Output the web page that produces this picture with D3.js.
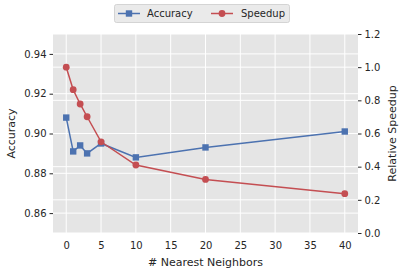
<!DOCTYPE html>
<html><head><meta charset="utf-8">
<script src="https://cdn.jsdelivr.net/npm/d3@7"></script>
<style>
html,body{margin:0;padding:0;background:#fff;}
text{font-family:"DejaVu Sans",sans-serif;fill:#262626;}
</style></head>
<body><svg id="c" width="405" height="273"></svg>
<script>
const neighbors = [0, 1, 2, 3, 5, 10, 20, 40];
const accuracy = [0.908, 0.891, 0.894, 0.890, 0.895, 0.888, 0.893, 0.901];
const speedup = [1.0, 0.864, 0.778, 0.701, 0.55, 0.41, 0.323, 0.237];
const xTicks = [0, 5, 10, 15, 20, 25, 30, 35, 40];
const leftTicks = [0.86, 0.88, 0.90, 0.92, 0.94];
const rightTicks = [0.0, 0.2, 0.4, 0.6, 0.8, 1.0, 1.2];
const seriesNames = ["Accuracy", "Speedup"];
const colors = ["#4C72B0", "#C44E52"];

const svg = d3.select("#c");
const L = 53, R = 358, T = 34, B = 233;
const x = d3.scaleLinear().domain([-1.9, 41.9]).range([L, R]);
const yL = d3.scaleLinear().domain([0.85, 0.95]).range([B, T]);
const yR = d3.scaleLinear().domain([0, 1.2]).range([B, T]);

svg.append("rect").attr("x", L).attr("y", T).attr("width", R - L).attr("height", B - T).attr("fill", "#E5E5E5");

const g = svg.append("g");
g.selectAll(".gx").data(xTicks).enter().append("line")
  .attr("x1", d => x(d)).attr("x2", d => x(d)).attr("y1", T).attr("y2", B)
  .attr("stroke", "#fff").attr("stroke-width", 1);
g.selectAll(".gl").data(leftTicks).enter().append("line")
  .attr("x1", L).attr("x2", R).attr("y1", d => yL(d)).attr("y2", d => yL(d))
  .attr("stroke", "#fff").attr("stroke-width", 1);
g.selectAll(".gr").data(rightTicks).enter().append("line")
  .attr("x1", L).attr("x2", R).attr("y1", d => yR(d)).attr("y2", d => yR(d))
  .attr("stroke", "#fff").attr("stroke-width", 1);

const fs = "10px";
const ax = svg.append("g").attr("transform", `translate(0,${B})`)
  .call(d3.axisBottom(x).tickValues(xTicks).tickSize(0).tickPadding(9).tickFormat(d3.format("d")));
const al = svg.append("g").attr("transform", `translate(${L},0)`)
  .call(d3.axisLeft(yL).tickValues(leftTicks).tickSize(3.5).tickPadding(3).tickFormat(d3.format(".2f")));
const ar = svg.append("g").attr("transform", `translate(${R},0)`)
  .call(d3.axisRight(yR).tickValues(rightTicks).tickSize(3.5).tickPadding(3).tickFormat(d3.format(".1f")));
[ax, al, ar].forEach(a => {
  a.select(".domain").remove();
  a.selectAll("text").style("font-size", fs).attr("fill", "#262626").style("font-family", "DejaVu Sans");
  a.selectAll("line").attr("stroke", "#262626");
});

const lfs = "11px";
svg.append("text").attr("x", (L + R) / 2).attr("y", 266).attr("text-anchor", "middle").style("font-size", lfs).text("# Nearest Neighbors");
svg.append("text").attr("transform", `translate(15,${(T + B) / 2}) rotate(-90)`).attr("text-anchor", "middle").style("font-size", lfs).text("Accuracy");
svg.append("text").attr("transform", `translate(396,${(T + B) / 2}) rotate(-90)`).attr("text-anchor", "middle").style("font-size", lfs).text("Relative Speedup");

const plotG = svg.append("g");
const accData = neighbors.map((n, i) => [n, accuracy[i]]);
const spData = neighbors.map((n, i) => [n, speedup[i]]);
plotG.append("path").datum(accData).attr("fill", "none").attr("stroke", colors[0]).attr("stroke-width", 1.5)
  .attr("d", d3.line().x(d => x(d[0])).y(d => yL(d[1])));
plotG.selectAll(".sq").data(accData).enter().append("rect")
  .attr("x", d => x(d[0]) - 3.2).attr("y", d => yL(d[1]) - 3.2).attr("width", 6.4).attr("height", 6.4).attr("fill", colors[0]);
plotG.append("path").datum(spData).attr("fill", "none").attr("stroke", colors[1]).attr("stroke-width", 1.5)
  .attr("d", d3.line().x(d => x(d[0])).y(d => yR(d[1])));
plotG.selectAll(".ci").data(spData).enter().append("circle")
  .attr("cx", d => x(d[0])).attr("cy", d => yR(d[1])).attr("r", 3.4).attr("fill", colors[1]);

const lg = svg.append("g");
lg.append("rect").attr("x", 114.5).attr("y", 4.5).attr("width", 175).attr("height", 18).attr("rx", 2)
  .attr("fill", "#EAEAEA").attr("stroke", "#CCCCCC").attr("stroke-width", 0.8);
const items = [{x0: 118, tx: 147}, {x0: 211, tx: 241}];
items.forEach((it, i) => {
  lg.append("line").attr("x1", it.x0).attr("x2", it.x0 + 22).attr("y1", 13.5).attr("y2", 13.5).attr("stroke", colors[i]).attr("stroke-width", 1.5);
  if (i === 0) lg.append("rect").attr("x", it.x0 + 11 - 3.2).attr("y", 13.5 - 3.2).attr("width", 6.4).attr("height", 6.4).attr("fill", colors[i]);
  else lg.append("circle").attr("cx", it.x0 + 11).attr("cy", 13.5).attr("r", 3.4).attr("fill", colors[i]);
  lg.append("text").attr("x", it.tx).attr("y", 17).style("font-size", fs).text(seriesNames[i]);
});
</script></body></html>
